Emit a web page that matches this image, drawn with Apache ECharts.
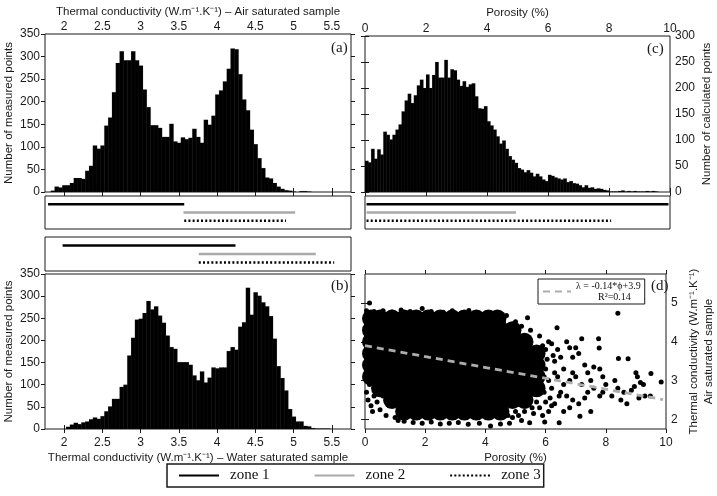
<!DOCTYPE html>
<html>
<head>
<meta charset="utf-8">
<script src="https://cdn.jsdelivr.net/npm/echarts@6/dist/echarts.min.js"></script>
<style>
  html, body { margin: 0; padding: 0; background: #fff; }
  #chart { width: 717px; height: 496px; }
</style>
</head>
<body>
<div id="chart"></div>
<script>
// (a) air saturated conductivity, bins of 0.05 W/m/K, first bin centred on 1.85
const airStart = 1.85, airStep = 0.05;
const airCounts = [3, 12, 10, 15, 15, 20, 31, 31, 29, 47, 58, 103, 96, 103, 147, 165, 221, 286, 312, 292,
  292, 312, 292, 280, 227, 188, 148, 148, 142, 122, 122, 151, 112, 109, 121, 117, 120, 140, 122, 109,
  160, 149, 169, 216, 225, 245, 273, 318, 316, 261, 205, 181, 138, 106, 75, 53, 32, 30, 20, 12,
  7, 4, 3, 1, 0, 2, 2, 1];

// (b) water saturated conductivity, first bin centred on 2.05
const waterStart = 2.05, waterStep = 0.05;
const waterCounts = [5, 10, 14, 11, 15, 17, 22, 26, 23, 29, 40, 51, 68, 68, 95, 100, 166, 206, 247, 249,
  262, 289, 270, 277, 256, 240, 211, 185, 181, 151, 151, 151, 145, 121, 110, 130, 105, 116, 139, 137,
  139, 139, 176, 185, 179, 231, 241, 319, 258, 309, 301, 286, 277, 255, 204, 142, 115, 87, 45, 28,
  17, 17, 7, 6, 2, 1, 1, 1, 1];

// (c) porosity, bins of 0.1 %, first bin centred on 0.05
const poroStart = 0.05, poroStep = 0.1;
const poroCounts = [60, 57, 83, 64, 82, 72, 116, 110, 101, 110, 120, 130, 155, 176, 189, 171, 186, 205, 216, 200,
  226, 200, 225, 250, 220, 220, 254, 220, 236, 234, 216, 204, 213, 202, 207, 209, 184, 161, 160, 165,
  136, 128, 120, 107, 93, 99, 83, 69, 62, 56, 46, 43, 38, 42, 37, 30, 35, 30, 24, 21,
  33, 31, 28, 26, 24, 26, 19, 21, 17, 16, 13, 9, 13, 8, 9, 6, 7, 6, 4, 3,
  1, 1, 1, 2, 3, 1, 2, 1, 2, 1, 1, 1, 2, 1, 2, 1, 0, 0, 0, 0];

const condTicks = [2, 2.5, 3, 3.5, 4, 4.5, 5, 5.5];
const lambdaTicks = [2, 3, 4, 5];

// zone extents [from, to] for zone 1, zone 2, zone 3
const zonesAir = [[1.79, 3.57], [3.56, 5.02], [3.57, 4.90]];
const zonesWater = [[1.98, 4.24], [3.76, 5.29], [3.76, 5.53]];
const zonesPoro = [[0.05, 9.95], [0.05, 4.95], [0.05, 8.07]];

// (d) linear fit end points
const fitName = 'λ = -0.14*ϕ+3.9';
const fitLine = [[0, 3.9], [9.9, 2.51]];

// (d) dense core of the cloud: [conductivity, porosity values]
const cloudCoreRows = [
  [4.6, [0.2, 0.5, 0.9, 1.3, 1.7, 2.1, 2.5, 2.9, 3.3, 3.7, 4.1, 4.4]],
  [4.3, [0.2, 0.5, 0.9, 1.3, 1.7, 2.1, 2.5, 2.9, 3.3, 3.7, 4.1, 4.5, 4.9]],
  [4.0, [0.2, 0.5, 0.9, 1.3, 1.7, 2.1, 2.5, 2.9, 3.3, 3.7, 4.1, 4.5, 4.9, 5.3]],
  [3.7, [0.2, 0.5, 0.9, 1.3, 1.7, 2.1, 2.5, 2.9, 3.3, 3.7, 4.1, 4.5, 4.9, 5.3, 5.7]],
  [3.4, [0.2, 0.5, 0.9, 1.3, 1.7, 2.1, 2.5, 2.9, 3.3, 3.7, 4.1, 4.5, 4.9, 5.3, 5.7]],
  [3.1, [0.2, 0.5, 0.9, 1.3, 1.7, 2.1, 2.5, 2.9, 3.3, 3.7, 4.1, 4.5, 4.9, 5.3, 5.7]],
  [2.8, [0.5, 0.9, 1.3, 1.7, 2.1, 2.5, 2.9, 3.3, 3.7, 4.1, 4.5, 4.9, 5.3, 5.7]],
  [2.5, [0.9, 1.3, 1.7, 2.1, 2.5, 2.9, 3.3, 3.7, 4.1, 4.5, 4.9, 5.3]],
  [2.2, [1.3, 1.7, 2.1, 2.5, 2.9, 3.3, 3.7, 4.1, 4.5]]
];
// (d) single measured points around the core [porosity, conductivity]
const cloudPoints = [
  [0.15, 5.0], [0.3, 4.78], [0.6, 4.8], [0.9, 4.77], [1.2, 4.82], [1.5, 4.78], [1.9, 4.86], [2.2, 4.78],
  [2.6, 4.76], [2.9, 4.8], [3.2, 4.74], [3.45, 4.81], [3.8, 4.7], [4.0, 4.66], [4.3, 4.62], [4.7, 4.68],
  [4.6, 4.5], [5.0, 4.52], [5.2, 4.4], [5.4, 4.62], [5.5, 4.3], [5.8, 4.15], [6.38, 4.36], [6.1, 4.0],
  [5.9, 3.9], [6.2, 3.95], [6.3, 3.5], [6.4, 3.8], [6.5, 3.6], [6.6, 3.3], [6.7, 4.0], [6.8, 3.85],
  [6.9, 3.6], [7.0, 3.85], [7.1, 3.7], [7.2, 4.08], [7.3, 3.4], [7.4, 3.2], [7.5, 3.0], [7.6, 3.35],
  [7.76, 4.08], [7.78, 3.84], [7.8, 3.3], [6.4, 3.1], [6.6, 2.9], [6.8, 3.0], [7.0, 3.1], [7.2, 2.9],
  [7.4, 2.7], [7.6, 2.8], [7.8, 2.6], [6.5, 2.7], [6.7, 2.6], [6.9, 2.5], [7.1, 2.4], [6.3, 2.4],
  [6.45, 2.6], [6.6, 2.2], [7.3, 2.55], [7.5, 2.2], [7.14, 2.08], [6.45, 1.91], [5.97, 1.93], [6.8, 2.3],
  [7.9, 2.7], [8.0, 2.9], [7.9, 3.1], [8.4, 4.74], [8.42, 3.57], [8.74, 3.56], [8.3, 3.0], [8.4, 2.8],
  [8.5, 2.5], [8.6, 2.7], [8.7, 2.4], [8.85, 2.75], [9.0, 3.2], [9.05, 3.1], [9.15, 2.95], [9.25, 2.9],
  [9.3, 2.6], [9.5, 3.18], [9.48, 2.6], [9.84, 2.96], [8.2, 2.6], [9.1, 2.55], [8.95, 2.85], [6.9, 3.2],
  [0.05, 2.7], [0.1, 2.5], [0.2, 2.35], [0.25, 2.2], [0.4, 2.45], [0.5, 2.25], [0.7, 2.1], [0.3, 2.6],
  [0.15, 2.9], [0.6, 2.6], [0.8, 2.35], [1.0, 2.05], [1.1, 1.97], [1.3, 1.95], [1.6, 1.92], [1.9, 1.9],
  [2.2, 1.93], [2.5, 1.88], [2.8, 1.9], [3.1, 1.92], [3.43, 1.87], [3.8, 1.9], [4.17, 1.83], [4.5, 1.88],
  [4.8, 1.9], [4.9, 2.05], [5.1, 2.1], [5.3, 2.2], [5.47, 1.91], [5.6, 2.15], [5.8, 2.3], [6.0, 2.45],
  [6.2, 2.35], [5.0, 2.2], [4.75, 2.1], [5.2, 1.97], [6.1, 2.2], [5.9, 2.1],
  [6.0, 3.3], [6.1, 3.0], [6.2, 2.8], [5.95, 2.7], [6.3, 3.2], [6.05, 3.55], [6.25, 3.65], [6.15, 2.55],
  [5.95, 3.1], [6.0, 3.8], [5.7, 2.45], [5.55, 2.3],
  [0.05, 4.8], [0.05, 4.5], [0.05, 4.2], [0.05, 3.9], [0.05, 3.6], [0.05, 3.3], [0.05, 3.05]
];

const sans = 'Liberation Sans, Arial, sans-serif';
const serif = 'Liberation Serif, Times New Roman, serif';
const ink = '#1a1a1a';

const cloudCore = cloudCoreRows.flatMap(r => r[1].map(x => [x, r[0]]));
const bins = (start, step, counts) => counts.map((c, i) => [+(start + i * step).toFixed(3), c]);

const grids = [
  { left: 45, top: 34, width: 306, height: 158 },   // 0 (a)
  { left: 45, top: 196, width: 306, height: 33 },   // 1 zones air
  { left: 45, top: 237, width: 306, height: 34 },   // 2 zones water
  { left: 45, top: 274, width: 306, height: 155 },  // 3 (b)
  { left: 365, top: 36, width: 305, height: 156 },  // 4 (c)
  { left: 365, top: 196, width: 305, height: 33 },  // 5 zones porosity
  { left: 365, top: 274, width: 305, height: 155 }  // 6 (d)
].map(g => Object.assign({ show: true, borderColor: ink, borderWidth: 1, backgroundColor: 'transparent' }, g));

// ticks: array -> custom values, number -> interval; labels: false or label margin
function axis(gridIndex, position, min, max, ticks, labels, name, nameGap) {
  const a = {
    type: 'value', gridIndex, position, min, max,
    axisLine: { show: false },
    splitLine: { show: false },
    axisTick: { show: true, inside: false, length: 4, lineStyle: { color: ink, width: 1 } },
    axisLabel: { show: labels !== false, margin: labels || 4, color: ink, fontSize: 12, fontFamily: sans }
  };
  if (Array.isArray(ticks)) {
    a.axisTick.customValues = ticks;
    a.axisLabel.customValues = ticks;
  } else {
    a.interval = ticks;
  }
  if (name) {
    a.name = name;
    a.nameLocation = 'middle';
    a.nameGap = nameGap;
    a.nameTextStyle = { color: ink, fontSize: 11.5, fontFamily: sans, lineHeight: 15 };
  }
  return a;
}
function hidden(gridIndex, min, max) {
  return { type: 'value', gridIndex, min, max, show: false };
}

const condAir = 'Thermal conductivity (W.m⁻¹.K⁻¹) – Air saturated sample';
const condWater = 'Thermal conductivity (W.m⁻¹.K⁻¹) – Water saturated sample';

const xAxis = [
  axis(0, 'top', 1.75, 5.75, condTicks, 1, condAir, 15),          // 0
  axis(0, 'bottom', 1.75, 5.75, condTicks, false),                 // 1
  hidden(1, 1.75, 5.75),                                           // 2
  hidden(2, 1.75, 5.75),                                           // 3
  axis(3, 'bottom', 1.75, 5.75, condTicks, 8, condWater, 21),      // 4
  axis(3, 'top', 1.75, 5.75, condTicks, false),                    // 5
  axis(4, 'top', 0, 10, 2, 1, 'Porosity (%)', 16),                 // 6
  axis(4, 'bottom', 0, 10, 2, false),                              // 7
  hidden(5, 0, 10),                                                // 8
  axis(6, 'bottom', 0, 10, 2, 8, 'Porosity (%)', 18),              // 9
  axis(6, 'top', 0, 10, 2, false)                                  // 10
];
const yAxis = [
  axis(0, 'left', 0, 350, 50, 5, 'Number of measured points', 28),  // 0
  axis(0, 'right', 0, 350, 50, false),                               // 1
  hidden(1, 0, 4),                                                   // 2
  hidden(2, 0, 4),                                                   // 3
  axis(3, 'left', 0, 350, 50, 5, 'Number of measured points', 29),  // 4
  axis(3, 'right', 0, 350, 50, false),                               // 5
  axis(4, 'right', 0, 300, 50, 5, 'Number of calculated points', 28),// 6
  axis(4, 'left', 0, 300, 50, false),                                // 7
  hidden(5, 0, 4),                                                   // 8
  axis(6, 'right', 1.75, 5.75, lambdaTicks, 5,
       'Thermal conductivity (W.m⁻¹.K⁻¹)\nAir saturated sample', 20), // 9
  axis(6, 'left', 1.75, 5.75, lambdaTicks, false)                    // 10
];

// histogram bars: one rect per bin, edges from the axis scale
function hist(xi, yi, data, step) {
  return {
    type: 'custom', xAxisIndex: xi, yAxisIndex: yi, data, silent: true, clip: true,
    encode: { x: 0, y: 1 },
    renderItem: (params, api) => {
      const x = api.value(0), h = api.value(1);
      if (!h) return null;
      const p0 = api.coord([x - step / 2, h]);
      const p1 = api.coord([x + step / 2, 0]);
      return {
        type: 'rect',
        shape: { x: p0[0], y: p0[1], width: p1[0] - p0[0] + 0.5, height: p1[1] - p0[1] },
        style: { fill: '#000', stroke: 'rgba(90,90,90,0.35)', lineWidth: 0.3 }
      };
    }
  };
}

const zoneStyles = [
  { color: '#000', width: 2.5, type: 'solid' },
  { color: '#a9a9a9', width: 2.5, type: 'solid' },
  { color: '#000', width: 2.5, type: [2, 2.2], cap: 'butt' }
];
const zoneRows = [3, 2, 1];
function zoneSeries(xi, yi, zones) {
  return zones.map((z, k) => ({
    type: 'line', name: 'zone ' + (k + 1), xAxisIndex: xi, yAxisIndex: yi,
    data: [[z[0], zoneRows[k]], [z[1], zoneRows[k]]],
    symbol: 'none', silent: true, lineStyle: zoneStyles[k], itemStyle: { color: zoneStyles[k].color }
  }));
}

const dotStyle = { color: '#000', opacity: 1, borderWidth: 0 };
const series = [
  hist(0, 0, bins(airStart, airStep, airCounts), airStep),
  hist(4, 4, bins(waterStart, waterStep, waterCounts), waterStep),
  hist(6, 6, bins(poroStart, poroStep, poroCounts), poroStep),
  ...zoneSeries(2, 2, zonesAir),
  ...zoneSeries(3, 3, zonesWater),
  ...zoneSeries(8, 8, zonesPoro),
  { type: 'scatter', xAxisIndex: 9, yAxisIndex: 9, data: cloudCore, symbolSize: 18,
    itemStyle: dotStyle, silent: true, clip: true },
  { type: 'scatter', xAxisIndex: 9, yAxisIndex: 9, data: cloudPoints, symbolSize: 5,
    itemStyle: dotStyle, silent: true, clip: true },
  { type: 'line', name: fitName, xAxisIndex: 9, yAxisIndex: 9, data: fitLine, symbol: 'none',
    silent: true, z: 5, lineStyle: { color: '#adadad', width: 2.8, type: [7, 5] },
    itemStyle: { color: '#adadad' } }
];

const panelTag = (text, left, top) => ({
  type: 'text', left, top,
  style: { text, fill: ink, font: '15px ' + serif }
});

const chart = echarts.init(document.getElementById('chart'));
chart.setOption({
  animation: false,
  backgroundColor: '#fff',
  grid: grids,
  xAxis,
  yAxis,
  series,
  legend: [
    {
      data: ['zone 1', 'zone 2', 'zone 3'], left: 167, top: 464, orient: 'horizontal',
      itemWidth: 40, itemHeight: 14, itemGap: 44, padding: [4, 3, 4, 11],
      borderColor: ink, borderWidth: 1.5, selectedMode: false,
      itemStyle: { opacity: 0 },
      textStyle: { fontFamily: serif, fontSize: 15, color: '#111', padding: [0, 0, 0, 6] }
    },
    {
      data: [fitName], left: 538, top: 279, itemWidth: 28, itemHeight: 10,
      padding: [2, 4], borderColor: ink, borderWidth: 1, selectedMode: false,
      itemStyle: { opacity: 0 },
      formatter: () => '{a|' + fitName + '}\n{b|R²=0.14}',
      textStyle: {
        fontFamily: serif, fontSize: 10, color: '#111',
        rich: { a: { fontSize: 10, lineHeight: 11 }, b: { fontSize: 10, lineHeight: 11, padding: [0, 0, 0, 22] } }
      }
    }
  ],
  graphic: [
    panelTag('(a)', 331, 41),
    panelTag('(c)', 647, 42),
    panelTag('(b)', 331, 279),
    panelTag('(d)', 651, 279)
  ]
});
</script>
</body>
</html>
